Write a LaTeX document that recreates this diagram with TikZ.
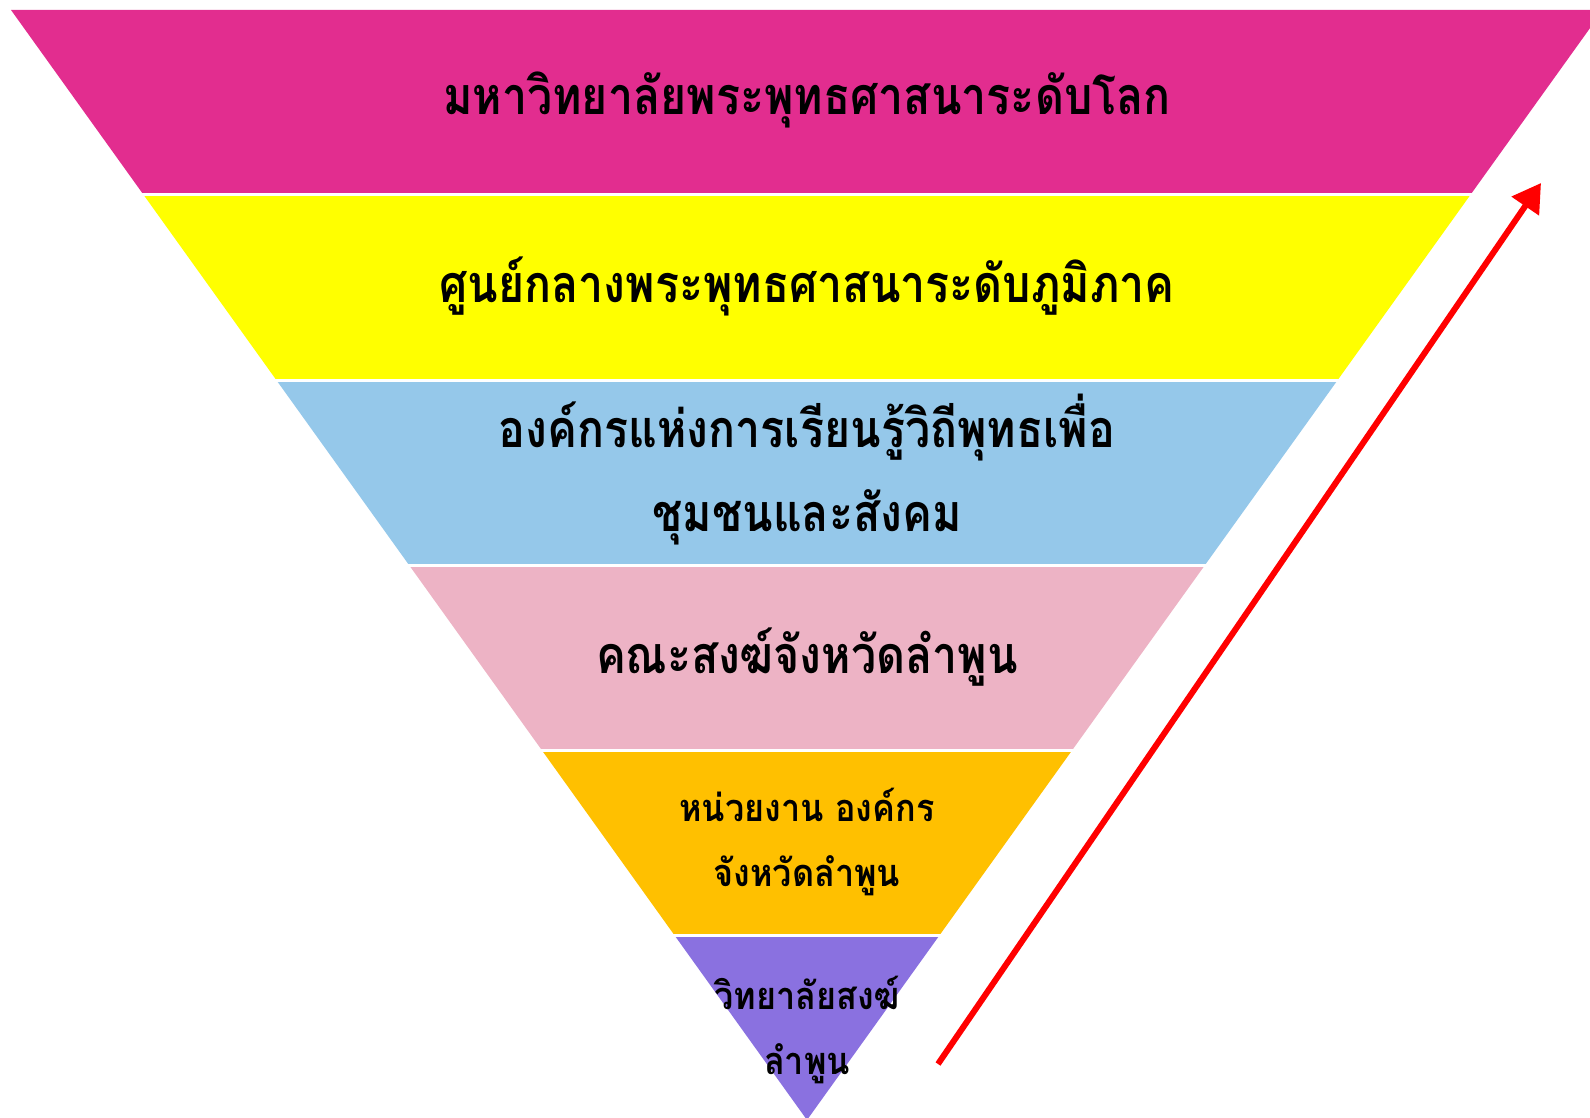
\documentclass[tikz,border=0pt]{standalone}
\usepackage{fontspec}
\newfontfamily\thaifont[Script=Thai, FakeStretch=0.86]{Loma}
\newfontfamily\thaifontb[Script=Thai, FakeStretch=0.90]{Loma}
\usetikzlibrary{arrows.meta}
\definecolor{bandA}{HTML}{E22D8F}
\definecolor{bandB}{HTML}{FFFF00}
\definecolor{bandC}{HTML}{95C8EA}
\definecolor{bandD}{HTML}{EDB3C5}
\definecolor{bandE}{HTML}{FFC000}
\definecolor{bandF}{HTML}{8A71E0}
\tikzset{
  lbl/.style={font=\thaifont\bfseries\fontsize{26}{42}\selectfont, align=center, text=black, inner sep=0pt},
  lblsmall/.style={font=\thaifontb\bfseries\fontsize{19}{32.5}\selectfont, align=center, text=black, inner sep=0pt},
  uparrow/.style={draw=red, line width=3pt, -{Triangle[length=14pt,width=16pt]}}
}
\begin{document}
\begin{tikzpicture}[x=0.5pt,y=-0.5pt]
\useasboundingbox (0,0) rectangle (1590,1118);
\begin{scope}
\clip (0,0) rectangle (1590,1118);
% left edge x = 11 + 0.7171*(y-10), right x = 1603 - 0.7171*(y-10)
\fill[bandA] (11,10) -- (1603,10) -- (1470.3,195) -- (143.7,195) -- cycle;
\fill[bandB] (143.7,195) -- (1470.3,195) -- (1337.7,380) -- (276.3,380) -- cycle;
\fill[bandC] (276.3,380) -- (1337.7,380) -- (1205.0,565) -- (409.0,565) -- cycle;
\fill[bandD] (409.0,565) -- (1205.0,565) -- (1072.3,750) -- (541.7,750) -- cycle;
\fill[bandE] (541.7,750) -- (1072.3,750) -- (939.7,935) -- (674.3,935) -- cycle;
\fill[bandF] (674.3,935) -- (939.7,935) -- (807,1120) -- cycle;
\foreach \yy in {195,380,565,750,935}{
  \draw[white, line width=1.5pt] (0,\yy) -- (1590,\yy);
}
\end{scope}
\node[lbl] (t1) at (807,100) {มหาวิทยาลัยพระพุทธศาสนาระดับโลก};
\node[lbl] (t2) at (807,286) {ศูนย์กลางพระพุทธศาสนาระดับภูมิภาค};
\node[lbl] (t3) at (807,470) {องค์กรแห่งการเรียนรู้วิถีพุทธเพื่อ\\ชุมชนและสังคม};
\node[lbl] (t4) at (807,657) {คณะสงฆ์จังหวัดลำพูน};
\node[lblsmall] (t5) at (807,842) {หน่วยงาน องค์กร\\จังหวัดลำพูน};
\node[lblsmall] (t6) at (807,1030) {วิทยาลัยสงฆ์\\ลำพูน};
\coordinate (as) at (938,1064);
\coordinate (ae) at (1541,183);
\draw[uparrow] (as) -- (ae);
\end{tikzpicture}
\end{document}
